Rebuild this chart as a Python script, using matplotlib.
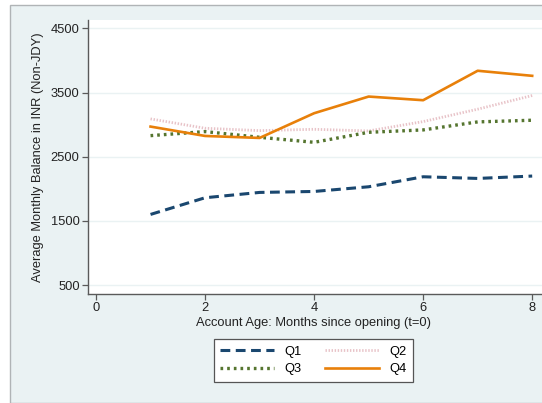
import matplotlib
matplotlib.use("Agg")
import matplotlib.pyplot as plt
from matplotlib.patches import Rectangle

# account age in months
months = [1, 2, 3, 4, 5, 6, 7, 8]

# average monthly balance by quartile
q1 = [1600, 1860, 1943, 1958, 2031, 2187, 2161, 2198]
q2 = [3089, 2943, 2906, 2927, 2901, 3047, 3240, 3453]
q3 = [2828, 2891, 2802, 2724, 2880, 2917, 3042, 3068]
q4 = [2969, 2823, 2792, 3177, 3437, 3380, 3839, 3760]

y_ticks = [500, 1500, 2500, 3500, 4500]
x_ticks = [0, 2, 4, 6, 8]

plt.rcParams['font.family'] = ['Liberation Sans', 'DejaVu Sans']
fs = 9.3

bg = '#eaf2f3'
fig = plt.figure(figsize=(5.42, 4.03), dpi=100, facecolor='white')

# stata-style graph region with border on left/top
fig.patches.append(Rectangle((10/542, 0), 1.2, (403-5)/403, transform=fig.transFigure,
                             facecolor=bg, edgecolor='#b0b4b6', linewidth=1.0, zorder=-10))

ax = fig.add_axes([88/542, 1-294/403, 1-88/542, (294-20)/403])
ax.set_facecolor('white')

l1, = ax.plot(months, q1, color='#1a476f', lw=2.2, linestyle=(0, (3.2, 1.8)), label='Q1')
l2, = ax.plot(months, q2, color='#e8c3c8', lw=2.0, linestyle=(0, (0.5, 0.6)), label='Q2')
l3, = ax.plot(months, q3, color='#55752f', lw=2.4, linestyle=(0, (0.8, 1.2)), label='Q3')
l4, = ax.plot(months, q4, color='#e8800a', lw=1.9, linestyle='-', label='Q4')

ax.set_xlim(-0.147, 8.18)
ax.set_ylim(360, 4630)
ax.set_yticks(y_ticks)
ax.set_xticks(x_ticks)
ax.yaxis.grid(True, color='#eaf2f3', lw=1.0)
ax.set_axisbelow(True)

for s in ['top', 'right']:
    ax.spines[s].set_visible(False)
for s in ['left', 'bottom']:
    ax.spines[s].set_color('#5a5a5a')
    ax.spines[s].set_linewidth(1.0)

ax.tick_params(axis='both', colors='#5a5a5a', labelcolor='#222222', labelsize=fs,
               length=4, width=0.9, direction='out', pad=2)

ax.set_xlabel('Account Age: Months since opening (t=0)', fontsize=fs, color='#222222')
ax.set_ylabel('Average Monthly Balance in INR (Non-JDY)', fontsize=fs, color='#222222', labelpad=5)
ax.xaxis.set_label_coords((314-88)/(542-88), -(317-294)/274)

# row order Q1 Q2 / Q3 Q4
leg = fig.legend([l1, l3, l2, l4], ['Q1', 'Q3', 'Q2', 'Q4'], loc='center',
                 bbox_to_anchor=(313.5/542, 1-360.5/403), ncol=2,
                 fontsize=fs, handlelength=4.2, columnspacing=1.8, handletextpad=0.8,
                 fancybox=False, framealpha=1, edgecolor='#555555', borderpad=0.5,
                 labelspacing=0.45)
leg.get_frame().set_linewidth(0.9)

fig.savefig('out.png', dpi=100, facecolor=fig.get_facecolor())
